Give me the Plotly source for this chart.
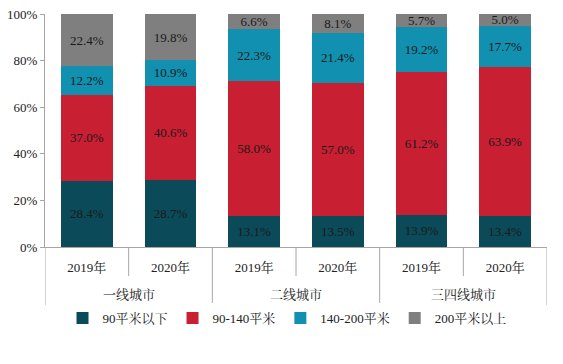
import plotly.graph_objects as go

groups = ["一线城市", "二线城市", "三四线城市"]
years = ["2019年", "2020年", "2019年", "2020年", "2019年", "2020年"]
series_names = ["90平米以下", "90-140平米", "140-200平米", "200平米以上"]
s_under90 = [28.4, 28.7, 13.1, 13.5, 13.9, 13.4]
s_90_140 = [37.0, 40.6, 58.0, 57.0, 61.2, 63.9]
s_140_200 = [12.2, 10.9, 22.3, 21.4, 19.2, 17.7]
s_over200 = [22.4, 19.8, 6.6, 8.1, 5.7, 5.0]
y_ticks = [0, 20, 40, 60, 80, 100]
y_tick_labels = ["0%", "20%", "40%", "60%", "80%", "100%"]

colors = ["#0b4a59", "#c91f32", "#1190b0", "#7f7f7f"]
FONT = "Liberation Serif, Times New Roman, Noto Serif CJK SC, Noto Sans CJK SC, serif"
LINE = "#a6a6a6"

W, H = 563, 364
M_L, M_R, M_T, M_B = 45, 16, 14, 117
H_PLOT = H - M_T - M_B
W_PLOT = W - M_L - M_R

xpos = list(range(len(years)))

fig = go.Figure()
for name, vals, col in zip(series_names, [s_under90, s_90_140, s_140_200, s_over200], colors):
    fig.add_trace(go.Bar(
        x=xpos, y=vals, name=name,
        marker=dict(color=col, line=dict(width=0)),
        text=[f"{v:.1f}%" for v in vals],
        textposition="inside", insidetextanchor="middle",
        textangle=0, constraintext="none",
        textfont=dict(family=FONT, size=13, color="#1a1a1a"),
        hoverinfo="skip",
    ))

# dividers under the category axis
for i in range(len(years) + 1):
    b = i - 0.5
    is_group = (i % 2 == 0)
    depth = 58 if is_group else 29
    fig.add_shape(type="line", xref="x", yref="paper", x0=b, x1=b, y0=0, y1=-depth / H_PLOT,
                  line=dict(color=LINE, width=1))

for gi, g in enumerate(groups):
    fig.add_annotation(x=2 * gi + 0.5, xref="x", y=-47 / H_PLOT, yref="paper",
                       text=g, showarrow=False, yanchor="middle",
                       font=dict(family=FONT, size=13, color="#222222"))

fig.update_layout(
    barmode="stack", bargap=0.38,
    width=W, height=H,
    margin=dict(l=M_L, r=M_R, t=M_T, b=M_B, autoexpand=False),
    paper_bgcolor="white", plot_bgcolor="white",
    font=dict(family=FONT, size=13, color="#222222"),
    uniformtext=dict(minsize=13, mode="show"),
    showlegend=True,
    hovermode=False,
    legend=dict(orientation="h", x=0.5 - 9 / W_PLOT, xanchor="center", y=-71 / H_PLOT,
                yanchor="middle",
                font=dict(family=FONT, size=13, color="#222222"),
                traceorder="normal", itemwidth=30),
)
fig.update_yaxes(range=[0, 100], tickvals=y_ticks, ticktext=y_tick_labels,
                 showgrid=False, zeroline=False, showline=True, linecolor=LINE,
                 linewidth=1, ticks="outside", ticklen=4, tickcolor=LINE,
                 tickfont=dict(family=FONT, size=13, color="#222222"))
fig.update_xaxes(range=[-0.5, len(years) - 0.5], tickvals=xpos, ticktext=years,
                 showgrid=False, zeroline=False, showline=True, linecolor=LINE,
                 linewidth=1, ticks="", ticklabelstandoff=8,
                 tickfont=dict(family=FONT, size=13, color="#222222"))

fig.write_html("out.html", config={"displayModeBar": False},
               post_script="document.body.style.margin='0';document.body.style.overflow='hidden';")
